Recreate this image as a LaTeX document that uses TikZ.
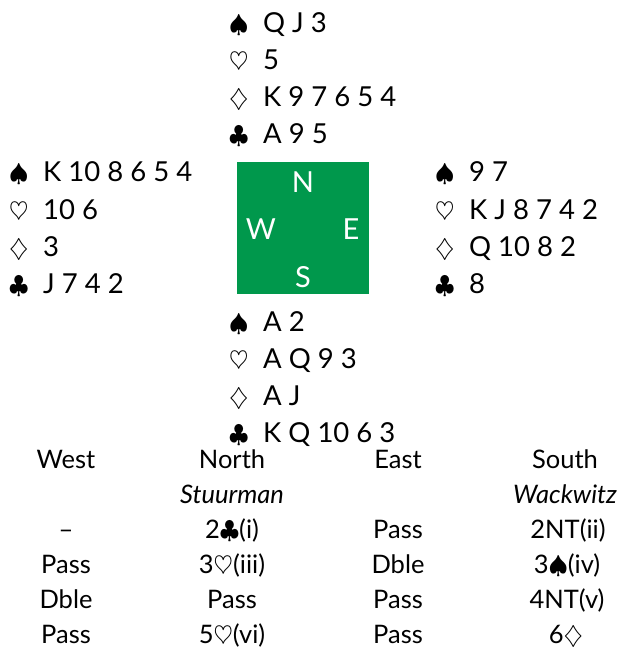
\documentclass[tikz,border=0pt]{standalone}
\usepackage{fontspec}
\setmainfont{Lato}
\definecolor{boardgreen}{RGB}{0,152,76}
\newcommand{\Sp}{\makebox[34pt][l]{$\spadesuit$}}
\newcommand{\Ht}{\makebox[34pt][l]{$\heartsuit$}}
\newcommand{\Dm}{\makebox[34pt][l]{$\diamondsuit$}}
\newcommand{\Cl}{\makebox[34pt][l]{$\clubsuit$}}
\begin{document}
\begin{tikzpicture}[x=1pt,y=-1pt,
  hand/.style={anchor=base west,inner sep=0pt,font=\fontsize{27.5}{27.5}\selectfont},
  bid/.style={anchor=base,inner sep=0pt,font=\fontsize{25.5}{25.5}\selectfont},
  compass/.style={inner sep=0pt,text=white,font=\fontsize{29}{29}\selectfont}]
\useasboundingbox (0,0) rectangle (621,647);
% board
\node[fill=boardgreen,minimum width=132pt,minimum height=132pt,inner sep=0pt] (board) at (303,228) {};
\node[compass] (cn) at (303,182) {N};
\node[compass] (cw) at (261,229) {W};
\node[compass] (ce) at (351,229) {E};
\node[compass] (cs) at (303,277) {S};
% North
\node[hand] (n1) at (229,33) {\Sp Q J 3};
\node[hand] (n2) at (229,70) {\Ht 5};
\node[hand] (n3) at (229,107) {\Dm K 9 7 6 5 4};
\node[hand] (n4) at (229,144) {\Cl A 9 5};
% West
\node[hand] (w1) at (9,182) {\Sp K 10 8 6 5 4};
\node[hand] (w2) at (9,219) {\Ht 10 6};
\node[hand] (w3) at (9,256) {\Dm 3};
\node[hand] (w4) at (9,293) {\Cl J 7 4 2};
% East
\node[hand] (e1) at (435,182) {\Sp 9 7};
\node[hand] (e2) at (435,219) {\Ht K J 8 7 4 2};
\node[hand] (e3) at (435,256) {\Dm Q 10 8 2};
\node[hand] (e4) at (435,293) {\Cl 8};
% South
\node[hand] (s1) at (229,331) {\Sp A 2};
\node[hand] (s2) at (229,368) {\Ht A Q 9 3};
\node[hand] (s3) at (229,405) {\Dm A J};
\node[hand] (s4) at (229,442) {\Cl K Q 10 6 3};
% Auction
\node[bid] (hW) at (66,468) {West};
\node[bid] (hN) at (232,468) {North};
\node[bid] (hE) at (398,468) {East};
\node[bid] (hS) at (565,468) {South};
\node[bid] (pN) at (232,503) {\itshape Stuurman};
\node[bid] (pS) at (565,503) {\itshape Wackwitz};
\node[bid] (a1) at (66,538) {--};
\node[bid] (a2) at (232,538) {2$\clubsuit$(i)};
\node[bid] (a3) at (398,538) {Pass};
\node[bid] (a4) at (568,538) {2NT(ii)};
\node[bid] (b1) at (66,573) {Pass};
\node[bid] (b2) at (232,573) {3$\heartsuit$(iii)};
\node[bid] (b3) at (398,573) {Dble};
\node[bid] (b4) at (567,573) {3$\spadesuit$(iv)};
\node[bid] (c1) at (66,608) {Dble};
\node[bid] (c2) at (232,608) {Pass};
\node[bid] (c3) at (398,608) {Pass};
\node[bid] (c4) at (567,608) {4NT(v)};
\node[bid] (d1) at (66,643) {Pass};
\node[bid] (d2) at (232,643) {5$\heartsuit$(vi)};
\node[bid] (d3) at (398,643) {Pass};
\node[bid] (d4) at (566,643) {6$\diamondsuit$};
\end{tikzpicture}
\end{document}
